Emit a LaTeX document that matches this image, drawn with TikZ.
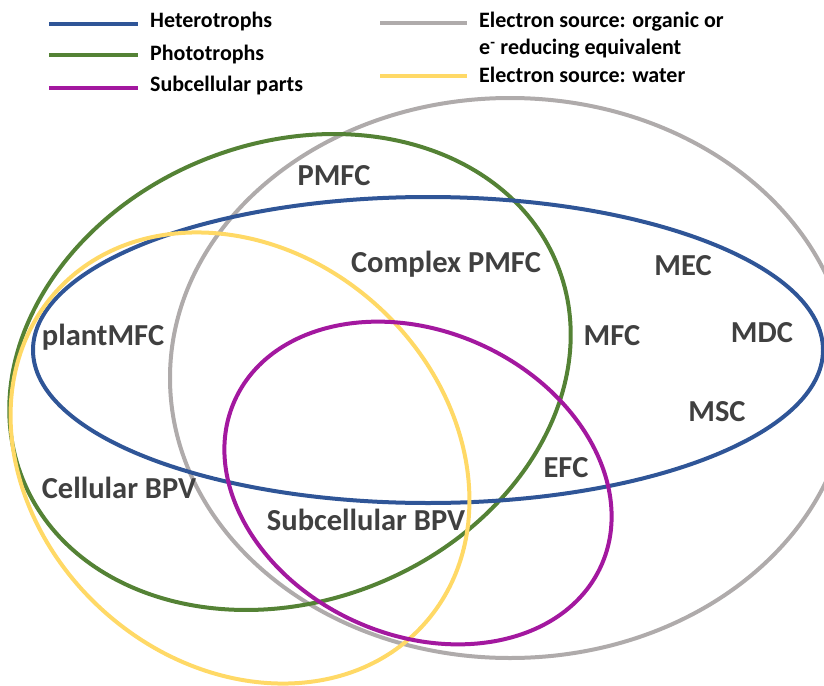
\documentclass[tikz,border=0pt]{standalone}
\usepackage{fontspec}
\setmainfont{Carlito}
\definecolor{hetblue}{HTML}{2F5597}
\definecolor{phogreen}{HTML}{548235}
\definecolor{submag}{HTML}{A3189F}
\definecolor{orggray}{HTML}{AFABAB}
\definecolor{watyel}{HTML}{FFD966}
\definecolor{labgray}{HTML}{404040}
\begin{document}
\begin{tikzpicture}[x=1pt,y=-1pt,
  ring/.style={line width=4pt},
  legline/.style={line width=4.5pt},
  legtext/.style={anchor=base west, inner sep=0pt, font=\fontsize{22}{24}\selectfont\bfseries, text=black},
  lab/.style={anchor=base, inner sep=0pt, font=\fontsize{30.5}{33}\selectfont\bfseries, text=labgray}]
\useasboundingbox (0,0) rectangle (824,685);
\clip (0,0) rectangle (824,685);
% ellipses
\draw[ring, orggray] (510,378) ellipse [x radius=340, y radius=280];
\draw[ring, phogreen, rotate around={21.7:(290,372)}] (290,372) ellipse [x radius=288, y radius=229];
\draw[ring, hetblue] (428,350) ellipse [x radius=395, y radius=153];
\draw[ring, watyel, rotate around={-42.4:(240,458)}] (240,458) ellipse [x radius=248, y radius=205];
\draw[ring, submag, rotate around={-24.3:(418,483)}] (418,483) ellipse [x radius=201, y radius=152];
% legend
\coordinate (l1a) at (49,24); \coordinate (l1b) at (138,24);
\coordinate (l2a) at (49,55); \coordinate (l2b) at (138,55);
\coordinate (l3a) at (49,88); \coordinate (l3b) at (138,88);
\coordinate (l4a) at (380,23); \coordinate (l4b) at (467,23);
\coordinate (l5a) at (380,76); \coordinate (l5b) at (467,76);
\draw[legline, hetblue] (l1a) -- (l1b);
\draw[legline, phogreen] (l2a) -- (l2b);
\draw[legline, submag] (l3a) -- (l3b);
\draw[legline, orggray] (l4a) -- (l4b);
\draw[legline, watyel] (l5a) -- (l5b);
\node[legtext] (t1) at (150,28) {Heterotrophs};
\node[legtext] (t2) at (150,60) {Phototrophs};
\node[legtext] (t3) at (150,92) {Subcellular parts};
\node[legtext] (t4) at (479,28) {Electron source: organic or};
\node[legtext] (t4b) at (479,55) {e\textsuperscript{-} reducing equivalent};
\node[legtext] (t5) at (479,82) {Electron source: water};
% labels
\node[lab] (pmfc) at (334,185) {PMFC};
\node[lab] (cpmfc) at (446,272) {Complex PMFC};
\node[lab] (mec) at (683,275) {MEC};
\node[lab] (plant) at (103,345) {plantMFC};
\node[lab] (mfc) at (612,345) {MFC};
\node[lab] (mdc) at (762,342) {MDC};
\node[lab] (msc) at (717,421) {MSC};
\node[lab] (efc) at (566,477) {EFC};
\node[lab] (cbpv) at (119,498) {Cellular BPV};
\node[lab] (sbpv) at (366,530) {Subcellular BPV};
\end{tikzpicture}
\end{document}
